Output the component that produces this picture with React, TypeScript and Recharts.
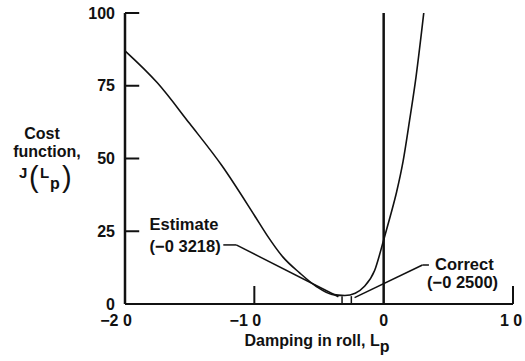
import { ComposedChart, Line, XAxis, YAxis, ReferenceLine, ReferenceDot } from 'recharts'

// curve: damping in roll Lp vs cost J(Lp)
const LP = [-2.0, -1.75, -1.5, -1.25, -1.0, -0.9, -0.78, -0.65, -0.52, -0.4, -0.3, -0.22, -0.15, -0.07, 0, 0.05, 0.1, 0.15, 0.2, 0.25, 0.31]
const COST = [87, 76, 62, 47.5, 30.5, 23.5, 16.2, 10.7, 6, 3.3, 2.9, 3.7, 6, 11.5, 22, 30, 38.5, 49, 63, 78, 100]

const X_TICKS = [-2, -1, 0, 1]
const X_TICK_LABELS = ['−2 0', '−1 0', '0', '1 0']
const Y_TICKS = [0, 25, 50, 75, 100]
const Y_TICK_LABELS = ['0', '25', '50', '75', '100']

const ESTIMATE = -0.3218
const CORRECT = -0.25
const MARKER_TOP = 2.7

// leader lines from the labels to the two markers
const ESTIMATE_LEADER = [
  { x: -1.24, y: 20.3 },
  { x: -1.14, y: 20.3 },
  { x: -0.35, y: 2.5 },
]
const CORRECT_LEADER = [
  { x: 0.35, y: 13.4 },
  { x: 0.3, y: 13.4 },
  { x: -0.225, y: 2.2 },
]

const data = LP.map((lp, i) => ({ lp, j: COST[i] }))

const FONT = '"Liberation Sans", Arial, Helvetica, sans-serif'
const INK = '#111'
const Y_MARK_LEN = 0.11 // inward y tick, in Lp units (~14px)

function XTick(props: any) {
  const { x, y, index } = props
  const v = X_TICKS[index]
  const showMark = v === -1 || v === 1
  return (
    <g>
      {showMark && <line x1={x} y1={y} x2={x} y2={y - 18} stroke={INK} strokeWidth={2} />}
      <text
        x={x + (v < 0 ? -9 : v > 0 ? -2 : 0)}
        y={y + 16}
        dy="0.35em"
        textAnchor="middle"
        fontFamily={FONT}
        fontWeight="bold"
        fontSize={16}
        fill={INK}
      >
        {X_TICK_LABELS[index]}
      </text>
    </g>
  )
}

function YTick(props: any) {
  const { x, y, index } = props
  return (
    <text
      x={x - 10}
      y={y}
      dy="0.35em"
      textAnchor="end"
      fontFamily={FONT}
      fontWeight="bold"
      fontSize={16}
      fill={INK}
    >
      {Y_TICK_LABELS[index]}
    </text>
  )
}

function YTitle() {
  const t = { fontFamily: FONT, fill: INK }
  return (
    <g>
      <text x={42} y={139} textAnchor="middle" fontSize={16} fontWeight="bold" {...t}>Cost</text>
      <text x={47} y={157} textAnchor="middle" fontSize={16} fontWeight="bold" {...t}>function,</text>
      <text x={19} y={178} fontSize={15} fontWeight="bold" {...t}>J</text>
      <text x={29} y={187} fontSize={29} {...t}>(</text>
      <text x={40} y={178} fontSize={15} fontWeight="bold" {...t}>L</text>
      <text x={50} y={189} fontSize={16} fontWeight="bold" {...t}>p</text>
      <text x={62} y={187} fontSize={29} {...t}>)</text>
    </g>
  )
}

function XTitle() {
  return (
    <text x={317} y={346} textAnchor="middle" fontFamily={FONT} fontWeight="bold" fontSize={16} fill={INK}>
      Damping in roll, L
      <tspan dy={6} fontSize={16}>p</tspan>
    </text>
  )
}

function Note({ cx, cy, lines, gap }: { cx?: number; cy?: number; lines: string[][]; gap: number }) {
  if (cx == null || cy == null) return null
  return (
    <g>
      {lines.map(([dx, s], i) => (
        <text
          key={i}
          x={cx + Number(dx)}
          y={cy + i * gap}
          fontFamily={FONT}
          fontWeight="bold"
          fontSize={16.5}
          fill={INK}
        >
          {s}
        </text>
      ))}
    </g>
  )
}

export default function App() {
  return (
    <div style={{ position: 'absolute', left: 0, top: 0, width: 525, height: 361, background: '#fff' }}>
      <ComposedChart width={525} height={361} data={data} margin={{ top: 13, right: 12, bottom: 7, left: 0 }}>
        <XAxis
          type="number"
          dataKey="lp"
          domain={[-2, 1]}
          ticks={X_TICKS}
          interval={0}
          height={50}
          tickSize={0}
          tickMargin={0}
          tickLine={false}
          tick={<XTick />}
          axisLine={{ stroke: INK, strokeWidth: 2 }}
          label={{ content: () => <XTitle /> }}
          allowDataOverflow
        />
        <YAxis
          type="number"
          domain={[0, 100]}
          ticks={Y_TICKS}
          interval={0}
          width={125}
          tickSize={0}
          tickMargin={0}
          tickLine={false}
          tick={<YTick />}
          axisLine={{ stroke: INK, strokeWidth: 2.5 }}
          label={{ content: () => <YTitle /> }}
          allowDataOverflow
        />
        {Y_TICKS.filter((v) => v > 0).map((v) => (
          <ReferenceLine
            key={v}
            segment={[{ x: X_TICKS[0], y: v }, { x: X_TICKS[0] + Y_MARK_LEN, y: v }]}
            stroke={INK}
            strokeWidth={2}
            ifOverflow="visible"
          />
        ))}
        <ReferenceLine x={0} stroke={INK} strokeWidth={2.5} />
        <ReferenceLine segment={[{ x: ESTIMATE, y: 0 }, { x: ESTIMATE, y: MARKER_TOP }]} stroke={INK} strokeWidth={1.5} />
        <ReferenceLine segment={[{ x: CORRECT, y: 0 }, { x: CORRECT, y: MARKER_TOP }]} stroke={INK} strokeWidth={1.5} />
        <ReferenceLine segment={[ESTIMATE_LEADER[0], ESTIMATE_LEADER[1]]} stroke={INK} strokeWidth={1.5} />
        <ReferenceLine segment={[ESTIMATE_LEADER[1], ESTIMATE_LEADER[2]]} stroke={INK} strokeWidth={1.5} />
        <ReferenceLine segment={[CORRECT_LEADER[0], CORRECT_LEADER[1]]} stroke={INK} strokeWidth={1.5} />
        <ReferenceLine segment={[CORRECT_LEADER[1], CORRECT_LEADER[2]]} stroke={INK} strokeWidth={1.5} />
        <Line
          dataKey="j"
          type="monotone"
          stroke={INK}
          strokeWidth={1.6}
          dot={false}
          isAnimationActive={false}
        />
        <ReferenceDot
          x={-1.81}
          y={25.4}
          r={0}
          shape={(p: any) => <Note cx={p.cx} cy={p.cy} gap={22} lines={[['0', 'Estimate'], ['0', '(−0 3218)']]} />}
        />
        <ReferenceDot
          x={0.397}
          y={11.7}
          r={0}
          shape={(p: any) => <Note cx={p.cx} cy={p.cy} gap={18} lines={[['0', 'Correct'], ['-8', '(−0 2500)']]} />}
        />
      </ComposedChart>
    </div>
  )
}
